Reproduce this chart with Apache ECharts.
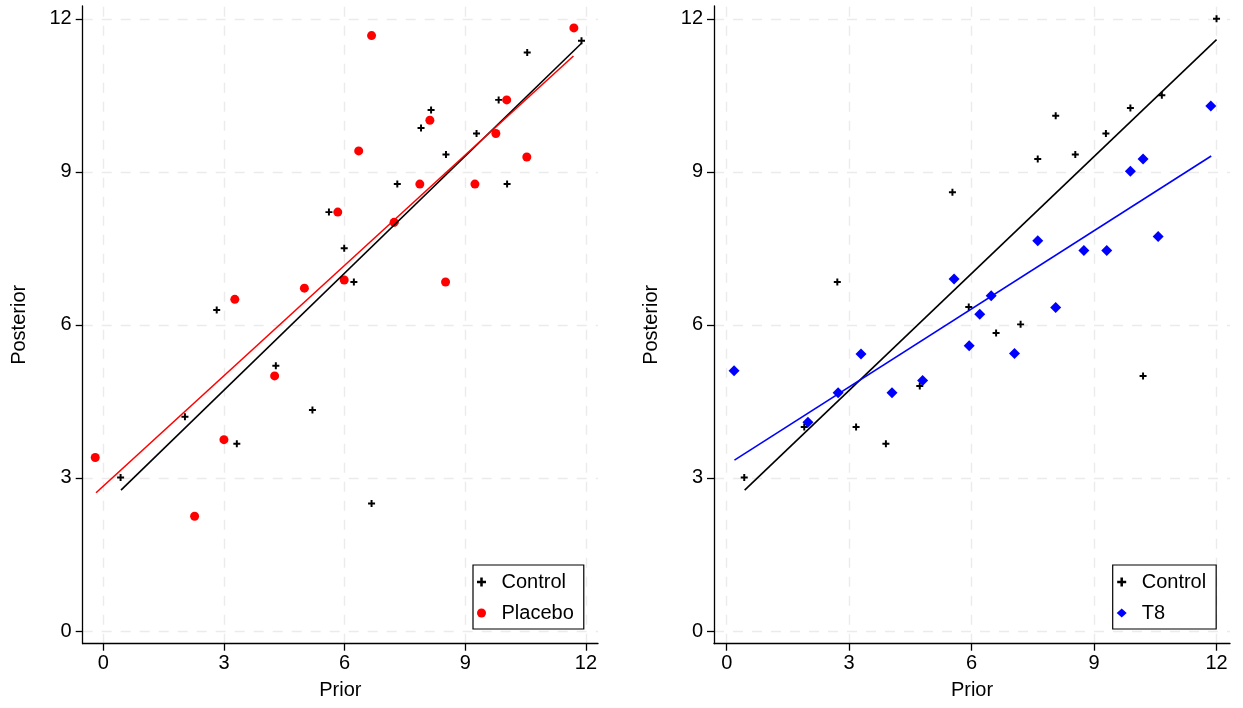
<!DOCTYPE html>
<html><head><meta charset="utf-8">
<script src="https://cdn.jsdelivr.net/npm/echarts@6/dist/echarts.min.js"></script>
<style>html,body{margin:0;padding:0;background:#fff}#c{width:1243px;height:708px}</style>
</head><body><div id="c"></div>
<script>
// ---- data ----
const xTicks = [0, 3, 6, 9, 12];
const yTicks = [0, 3, 6, 9, 12];

const controlLeft = [
  [11.89,11.57],[10.54,11.34],[9.83,10.41],[8.15,10.21],[7.90,9.86],[9.28,9.75],
  [8.52,9.34],[7.31,8.76],[10.04,8.76],[5.61,8.21],[5.99,7.50],[6.23,6.84],
  [7.25,8.00],[2.82,6.29],[0.43,3.01],[2.03,4.20],[3.32,3.67],[4.29,5.20],
  [5.20,4.33],[6.67,2.50]
];
const placebo = [
  [11.70,11.82],[6.67,11.67],[10.03,10.41],[8.12,10.01],[9.76,9.75],[6.35,9.41],
  [10.53,9.29],[7.87,8.76],[9.24,8.76],[5.83,8.21],[7.23,8.01],[5.99,6.88],
  [8.51,6.84],[5.00,6.72],[3.27,6.50],[-0.20,3.40],[3.00,3.75],[2.27,2.25],
  [4.26,5.00]
];
const controlRight = [
  [12.00,12.00],[10.66,10.50],[9.89,10.25],[9.29,9.75],[8.06,10.10],[8.54,9.34],
  [7.62,9.25],[5.53,8.60],[5.93,6.35],[6.60,5.84],[7.20,6.01],[10.20,5.00],
  [0.43,3.01],[1.90,4.00],[3.17,4.00],[3.90,3.67],[4.73,4.80],[2.71,6.84]
];
const t8 = [
  [11.86,10.29],[10.20,9.25],[9.89,9.01],[10.57,7.73],[7.62,7.65],[8.75,7.46],
  [9.31,7.46],[5.57,6.90],[6.48,6.57],[6.20,6.21],[8.06,6.34],[5.94,5.59],
  [7.05,5.44],[4.80,4.91],[0.18,5.10],[3.29,5.43],[2.73,4.67],[4.05,4.67],
  [1.99,4.09]
];
// fitted lines (endpoints)
const fitControlLeft = [[0.44,2.76],[11.89,11.52]];
const fitPlacebo = [[-0.18,2.71],[11.69,11.27]];
const fitControlRight = [[0.44,2.76],[12.00,11.59]];
const fitT8 = [[0.19,3.35],[11.87,9.31]];

// ---- chart ----
const FONT = "'Liberation Sans', Arial, Helvetica, sans-serif";
const PLUS = 'path://M3.6,0 H6.4 V3.6 H10 V6.4 H6.4 V10 H3.6 V6.4 H0 V3.6 H3.6 Z';

function xAxis(gi, min, max) {
  return {
    type: 'value', gridIndex: gi, min: min, max: max,
    name: 'Prior', nameLocation: 'middle', nameGap: 37,
    nameTextStyle: {fontSize: 20, color: '#000', fontFamily: FONT},
    axisLine: {show: true, onZero: false, lineStyle: {color: '#000', width: 1.3}},
    axisTick: {show: true, length: 7, customValues: xTicks, lineStyle: {color: '#000', width: 1.3}},
    axisLabel: {customValues: xTicks, margin: 10, fontSize: 20, color: '#000', fontFamily: FONT},
    splitLine: {show: false}
  };
}
function yAxis(gi) {
  return {
    type: 'value', gridIndex: gi, min: -0.249, max: 12.25,
    name: 'Posterior', nameLocation: 'middle', nameGap: 53,
    nameTextStyle: {fontSize: 20, color: '#000', fontFamily: FONT},
    axisLine: {show: true, onZero: false, lineStyle: {color: '#000', width: 1.3}},
    axisTick: {show: true, length: 7, customValues: yTicks, lineStyle: {color: '#000', width: 1.3}},
    axisLabel: {customValues: yTicks, margin: 11, fontSize: 20, color: '#000', fontFamily: FONT},
    splitLine: {show: false}
  };
}
function gridLines(gi) {
  return {
    type: 'scatter', xAxisIndex: gi, yAxisIndex: gi, data: [], z: 0, silent: true,
    markLine: {
      silent: true, symbol: ['none', 'none'], animation: false, z: 0,
      label: {show: false},
      lineStyle: {color: '#ebebeb', type: [10, 9], width: 1.4},
      emphasis: {disabled: true},
      data: xTicks.map(v => ({xAxis: v})).concat(yTicks.map(v => ({yAxis: v})))
    }
  };
}
function pts(name, gi, data, symbol, size, color) {
  return {type: 'scatter', name: name, xAxisIndex: gi, yAxisIndex: gi, data: data,
    symbol: symbol, symbolSize: size, itemStyle: {color: color, opacity: 1}, z: 3, animation: false};
}
function fit(name, gi, data, color) {
  return {type: 'line', name: name + ' fit', xAxisIndex: gi, yAxisIndex: gi, data: data,
    showSymbol: false, symbol: 'none', lineStyle: {color: color, width: 1.6}, z: 4, animation: false};
}
function legend(left, names, icons) {
  return {
    orient: 'vertical', left: left, top: 565, z: 10,
    padding: [7, 10, 6, 4], itemGap: 11, itemWidth: 10, itemHeight: 9,
    borderColor: '#000', borderWidth: 1.2, backgroundColor: '#fff',
    textStyle: {fontSize: 20, color: '#000', fontFamily: FONT, padding: [0, 0, 0, 10]},
    selectedMode: false,
    data: names.map((n, i) => ({name: n, icon: icons[i]}))
  };
}

const chart = echarts.init(document.getElementById('c'), null, {renderer: 'canvas'});
chart.setOption({
  backgroundColor: '#fff',
  animation: false,
  grid: [
    {left: 82.7, top: 6, width: 515.3, height: 637.7},
    {left: 714, top: 6, width: 516, height: 637.7}
  ],
  xAxis: [xAxis(0, -0.512, 12.30), xAxis(1, -0.311, 12.33)],
  yAxis: [yAxis(0), yAxis(1)],
  legend: [
    legend(473, ['Control', 'Placebo'], [PLUS, 'circle']),
    legend(1112.7, ['Control', 'T8'], [PLUS, 'diamond'])
  ],
  series: [
    gridLines(0), gridLines(1),
    pts('Control', 0, controlLeft, PLUS, 7, '#000'),
    pts('Placebo', 0, placebo, 'circle', 9, '#ff0000'),
    fit('Control', 0, fitControlLeft, '#000'),
    fit('Placebo', 0, fitPlacebo, '#ff0000'),
    pts('Control', 1, controlRight, PLUS, 7, '#000'),
    pts('T8', 1, t8, 'diamond', 11, '#0000ff'),
    fit('Control', 1, fitControlRight, '#000'),
    fit('T8', 1, fitT8, '#0000ff')
  ]
});
</script>
</body></html>
